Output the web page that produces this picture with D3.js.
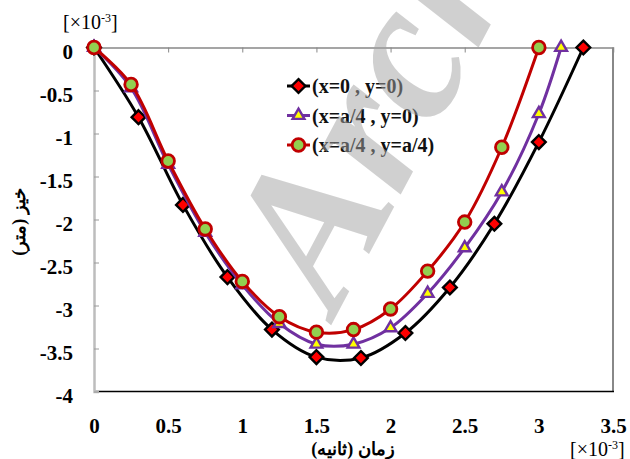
<!DOCTYPE html>
<html>
<head>
<meta charset="utf-8">
<script src="https://cdn.jsdelivr.net/npm/d3@7"></script>
<style>
  html, body { margin: 0; padding: 0; background: #ffffff; }
  svg { display: block; }
</style>
</head>
<body>
<svg id="chart" width="630" height="459"></svg>
<script>
// ---- data (time ×10^-3 s, deflection ×10^-3 m) ----
const tBlack  = [0, 0.3, 0.6, 0.9, 1.2, 1.5, 1.8, 2.1, 2.4, 2.7, 3.0, 3.3];
const wBlack  = [0, -0.81, -1.83, -2.67, -3.28, -3.60, -3.61, -3.32, -2.79, -2.05, -1.10, 0];
const tPurple = [0, 0.25, 0.5, 0.75, 1.0, 1.25, 1.5, 1.75, 2.0, 2.25, 2.5, 2.75, 3.0, 3.15];
const wPurple = [0, -0.47, -1.36, -2.15, -2.76, -3.21, -3.45, -3.45, -3.26, -2.86, -2.33, -1.68, -0.77, 0];
const tRed    = [0, 0.25, 0.5, 0.75, 1.0, 1.25, 1.5, 1.75, 2.0, 2.25, 2.5, 2.75, 3.0];
const wRed    = [0, -0.43, -1.32, -2.11, -2.72, -3.13, -3.31, -3.28, -3.04, -2.60, -2.03, -1.16, 0];
const seriesNames = ["(x=0 , y=0)", "(x=a/4 , y=0)", "(x=a/4 , y=a/4)"];
const xTicks = [0, 0.5, 1, 1.5, 2, 2.5, 3, 3.5];
const yTicks = [0, -0.5, -1, -1.5, -2, -2.5, -3, -3.5, -4];
const xTitle = "زمان (ثانیه)";
const yTitle = "خیز (متر)";

const svg = d3.select("#chart");
const L = 94, R = 613, T = 47.5, B = 391.5;
const x = d3.scaleLinear().domain([0, 3.5]).range([L, R]);
const y = d3.scaleLinear().domain([-4, 0]).range([B, T]);

const serif = "'Liberation Serif', 'Times New Roman', serif";

// plot frame: right (gray) and bottom (black)
svg.append("line").attr("x1", R).attr("x2", R).attr("y1", T).attr("y2", B + 0.5)
  .attr("stroke", "#888").attr("stroke-width", 2);
svg.append("line").attr("x1", L).attr("x2", R + 1).attr("y1", B).attr("y2", B)
  .attr("stroke", "#000").attr("stroke-width", 1.5);

// left axis (light gray, inside ticks)
const gL = svg.append("g").attr("transform", `translate(${L},0)`)
  .call(d3.axisRight(y).tickValues(yTicks).tickSize(5).tickFormat(""));
gL.select(".domain").attr("stroke", "#bdbdbd").attr("stroke-width", 2.5);
gL.selectAll(".tick line").attr("stroke", "#9a9a9a").attr("stroke-width", 1);

// top zero-line axis (gray, inside ticks)
const gT = svg.append("g").attr("transform", `translate(0,${y(0)})`)
  .call(d3.axisBottom(x).tickValues(xTicks.slice(1, -1)).tickSize(5).tickFormat(""));
gT.select(".domain").attr("stroke", "#888").attr("stroke-width", 1.5);
gT.selectAll(".tick line").attr("stroke", "#888").attr("stroke-width", 1);

// tick labels
const gYL = svg.append("g").attr("transform", `translate(73,0)`)
  .call(d3.axisLeft(y).tickValues(yTicks).tickSize(0).tickPadding(0)
    .tickFormat(d => d === 0 ? "0" : String(d)));
gYL.select(".domain").remove();
gYL.selectAll("text").attr("font-family", serif).attr("font-weight", "bold")
  .attr("font-size", 21).attr("fill", "#000").attr("dy", "0.52em");

const gXL = svg.append("g").attr("transform", `translate(0,414)`)
  .call(d3.axisBottom(x).tickValues(xTicks).tickSize(0).tickPadding(0)
    .tickFormat(d => String(d)));
gXL.select(".domain").remove();
gXL.selectAll("text").attr("font-family", serif).attr("font-weight", "bold")
  .attr("font-size", 21).attr("fill", "#000").attr("dy", "0.9em");

// unit labels
function unitLabel(xp, yp) {
  const t = svg.append("text").attr("x", xp).attr("y", yp)
    .attr("font-family", serif).attr("font-size", 20).attr("fill", "#000");
  t.append("tspan").text("[×10");
  t.append("tspan").attr("font-size", 12).attr("dy", -7).text("-3");
  t.append("tspan").attr("dy", 7).text("]");
}
unitLabel(63, 29);
unitLabel(570, 456);

// axis titles
svg.append("text").attr("x", 353).attr("y", 455).attr("text-anchor", "middle")
  .attr("font-family", serif).attr("font-weight", "bold").attr("font-size", 18)
  .attr("direction", "rtl").text(xTitle);
svg.append("text").attr("transform", "translate(25,222) rotate(-90)")
  .attr("text-anchor", "middle").attr("font-family", serif).attr("font-weight", "bold")
  .attr("font-size", 18).attr("direction", "rtl").text(yTitle);

// series
const series = [
  { t: tBlack,  w: wBlack,  line: "#000000", fill: "#ff0000", stroke: "#000000", shape: "diamond" },
  { t: tPurple, w: wPurple, line: "#7030a0", fill: "#ffff00", stroke: "#7030a0", shape: "triangle" },
  { t: tRed,    w: wRed,    line: "#c00000", fill: "#92d050", stroke: "#c00000", shape: "circle" }
];
const lineGen = d3.line().x(d => x(d[0])).y(d => y(d[1])).curve(d3.curveCatmullRom.alpha(0.5));
const sym = {
  diamond: d3.symbol().type(d3.symbolDiamond2).size(120),
  triangle: d3.symbol().type(d3.symbolTriangle2).size(100),
  circle: d3.symbol().type(d3.symbolCircle).size(125)
};
function marker(g, s, cx, cy) {
  g.append("path").attr("d", sym[s.shape]())
    .attr("transform", `translate(${cx},${cy})`)
    .attr("fill", s.fill).attr("stroke", s.stroke)
    .attr("stroke-width", s.shape === "circle" ? 2.8 : 2.4)
    .attr("stroke-linejoin", "miter");
}
series.forEach(s => {
  const pts = s.t.map((t, i) => [t, s.w[i]]);
  const g = svg.append("g");
  g.append("path").attr("d", lineGen(pts)).attr("fill", "none")
    .attr("stroke", s.line).attr("stroke-width", 3);
  pts.forEach(p => marker(g, s, x(p[0]), y(p[1])));
});

// legend
const legY = [86, 115.5, 145];
series.forEach((s, i) => {
  const g = svg.append("g");
  g.append("line").attr("x1", 287).attr("x2", 310).attr("y1", legY[i]).attr("y2", legY[i])
    .attr("stroke", s.line).attr("stroke-width", 3);
  marker(g, s, 298.5, legY[i]);
  g.append("text").attr("x", 312).attr("y", legY[i] + 7)
    .attr("font-family", serif).attr("font-weight", "bold").attr("font-size", 20)
    .attr("fill", "#111").text(seriesNames[i]);
});

// watermark (clipped to the picture)
svg.append("clipPath").attr("id", "wm").append("rect")
  .attr("x", 0).attr("y", 0).attr("width", 630).attr("height", 459);
svg.append("g").attr("clip-path", "url(#wm)")
  .append("text").attr("transform", "translate(336,316) rotate(-62)")
  .attr("font-family", serif).attr("font-weight", "bold").attr("font-style", "italic")
  .attr("font-size", 200).attr("fill", "#a3a3a3").attr("opacity", 0.5)
  .text("Archive");
</script>
</body>
</html>
